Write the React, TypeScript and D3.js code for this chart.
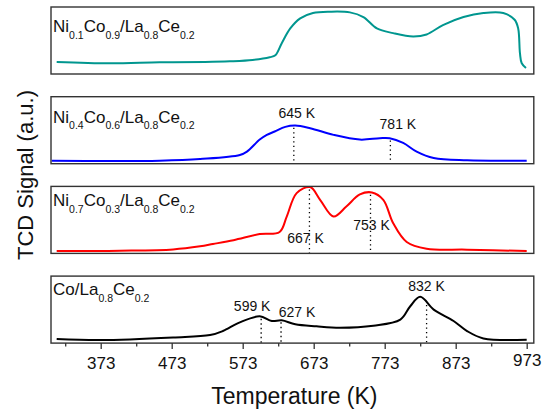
import { useEffect, useRef } from "react"
import * as d3 from "d3"

// temperatures (K) and TCD signal (a.u., 0-1 per panel)
const tempsA = [311, 386, 456, 520, 555, 587, 611, 619, 628, 640, 654, 672, 696, 724, 743, 762, 785, 813, 832, 855, 884, 912, 940, 956, 961, 963.5, 966, 972]
const signalA = [0.18, 0.16, 0.175, 0.18, 0.19, 0.21, 0.25, 0.28, 0.46, 0.68, 0.83, 0.91, 0.93, 0.92, 0.85, 0.68, 0.61, 0.56, 0.59, 0.73, 0.85, 0.91, 0.91, 0.81, 0.68, 0.31, 0.16, 0.09]

const tempsB = [304, 386, 456, 513, 569, 579, 597, 607, 618, 633, 647, 668, 701, 738, 766, 780, 799, 818, 842, 889, 973]
const signalB = [0.045, 0.04, 0.045, 0.07, 0.13, 0.18, 0.36, 0.43, 0.48, 0.55, 0.57, 0.53, 0.43, 0.36, 0.38, 0.38, 0.31, 0.18, 0.085, 0.05, 0.045]

const tempsC = [311, 400, 475, 513, 531, 560, 597, 625, 635, 649, 668, 682, 701, 719, 738, 755, 771, 785, 804, 832, 889, 973]
const signalC = [0.035, 0.04, 0.06, 0.106, 0.14, 0.197, 0.288, 0.32, 0.55, 0.9, 0.99, 0.8, 0.55, 0.7, 0.88, 0.91, 0.8, 0.45, 0.17, 0.07, 0.056, 0.035]

const tempsD = [311, 373, 475, 527, 545, 569, 597, 614, 628, 647, 677, 710, 757, 795, 809, 823, 842, 870, 889, 912, 973]
const signalD = [0.06, 0.045, 0.085, 0.12, 0.18, 0.31, 0.4, 0.33, 0.34, 0.28, 0.25, 0.23, 0.26, 0.35, 0.55, 0.69, 0.5, 0.33, 0.18, 0.07, 0.05]

const sampleNames = [
  "Ni_{0.1}Co_{0.9}/La_{0.8}Ce_{0.2}",
  "Ni_{0.4}Co_{0.6}/La_{0.8}Ce_{0.2}",
  "Ni_{0.7}Co_{0.3}/La_{0.8}Ce_{0.2}",
  "Co/La_{0.8}Ce_{0.2}",
]

const peaksA: number[] = []
const peaksB = [645, 781]
const peaksC = [667, 753]
const peaksD = [599, 627, 832]

const majorTicks = [373, 473, 573, 673, 773, 873, 973]
const minorTicks = [323, 423, 523, 623, 723, 823, 923]

const series = [
  { temps: tempsA, signal: signalA, peaks: peaksA, color: "#00968f" },
  { temps: tempsB, signal: signalB, peaks: peaksB, color: "#0000ff" },
  { temps: tempsC, signal: signalC, peaks: peaksC, color: "#ff0000" },
  { temps: tempsD, signal: signalD, peaks: peaksD, color: "#000000" },
]

// label placement: [dx from peak, baseline below panel top]
const peakLabelPos = [
  [],
  [[3, 21.5], [7.5, 32]],
  [[-4, 57], [1, 43.7]],
  [[-9, 34.7], [16, 40.7], [0, 14.7]],
]
const nameBaseline = [25, 26, 20, 19]

const W = 550
const H = 416
const left = 51
const right = 533.8
const firstTop = 7
const step = 89.7
const panelH = 67
const FONT = "'Liberation Sans', Arial, sans-serif"

function parseLabel(s: string) {
  const parts: { t: string; sub: boolean }[] = []
  const re = /_\{([^}]*)\}/g
  let last = 0
  let m
  while ((m = re.exec(s))) {
    if (m.index > last) parts.push({ t: s.slice(last, m.index), sub: false })
    parts.push({ t: m[1], sub: true })
    last = m.index + m[0].length
  }
  if (last < s.length) parts.push({ t: s.slice(last), sub: false })
  return parts
}

export default function App() {
  const svgRef = useRef<SVGSVGElement>(null)

  useEffect(() => {
    if (!svgRef.current) return
    const svg = d3.select(svgRef.current)
    svg.selectAll("*").remove()

    const x = d3.scaleLinear().domain([303, 983]).range([left, right])

    series.forEach((s, i) => {
      const top = firstTop + i * step
      const y = d3.scaleLinear().domain([0, 1]).range([top + panelH, top])
      const g = svg.append("g")

      const pts = s.temps.map((t, k) => [t, s.signal[k]] as [number, number])
      const line = d3.line<[number, number]>()
        .x(d => x(d[0]))
        .y(d => y(d[1]))
        .curve(d3.curveCatmullRom.alpha(0.5))

      g.append("path")
        .datum(pts)
        .attr("d", line)
        .attr("fill", "none")
        .attr("stroke", s.color)
        .attr("stroke-width", 2)
        .attr("stroke-linejoin", "round")

      // peak markers
      s.peaks.forEach((p, k) => {
        const v = d3.scaleLinear().domain(s.temps).range(s.signal)(p)
        g.append("line")
          .attr("x1", x(p)).attr("x2", x(p))
          .attr("y1", y(v) + 2).attr("y2", top + panelH)
          .attr("stroke", "#000")
          .attr("stroke-width", 1.3)
          .attr("stroke-dasharray", "1.3,3.2")
        const [dx, dy] = peakLabelPos[i][k]
        g.append("text")
          .attr("x", x(p) + dx)
          .attr("y", top + dy)
          .attr("text-anchor", "middle")
          .attr("font-family", FONT)
          .attr("font-size", 14)
          .attr("fill", "#111")
          .text(`${p} K`)
      })

      // frame
      g.append("rect")
        .attr("x", left).attr("y", top)
        .attr("width", right - left).attr("height", panelH)
        .attr("fill", "none")
        .attr("stroke", "#333")
        .attr("stroke-width", 1.4)

      // sample name
      const txt = g.append("text")
        .attr("x", left + 2)
        .attr("y", top + nameBaseline[i])
        .attr("font-family", FONT)
        .attr("font-size", 17)
        .attr("fill", "#111")
      let shifted = false
      parseLabel(sampleNames[i]).forEach(part => {
        const ts = txt.append("tspan").text(part.t)
        if (part.sub && !shifted) { ts.attr("dy", 6.5); shifted = true }
        else if (!part.sub && shifted) { ts.attr("dy", -6.5); shifted = false }
        if (part.sub) ts.attr("font-size", 10.5)
      })

      if (i === series.length - 1) {
        const bottom = top + panelH
        const axis = g.append("g")
          .attr("transform", `translate(0,${bottom})`)
          .call(d3.axisBottom(x).tickValues(majorTicks).tickSize(6).tickPadding(8).tickFormat(d3.format("d")))
        axis.select(".domain").remove()
        axis.selectAll("line").attr("stroke", "#333").attr("stroke-width", 1.3)
        axis.selectAll("text")
          .attr("font-family", FONT)
          .attr("font-size", 17)
          .attr("fill", "#111")
        axis.selectAll<SVGTextElement, number>("text")
          .filter(d => d === 973)
          .attr("y", 11)
        const minor = g.append("g")
          .attr("transform", `translate(0,${bottom})`)
          .call(d3.axisBottom(x).tickValues(minorTicks).tickSize(3.5).tickFormat(() => ""))
        minor.select(".domain").remove()
        minor.selectAll("line").attr("stroke", "#333").attr("stroke-width", 1.3)
      }
    })

    svg.append("text")
      .attr("x", (left + right) / 2 + 2)
      .attr("y", 404)
      .attr("text-anchor", "middle")
      .attr("font-family", FONT)
      .attr("font-size", 23)
      .attr("fill", "#111")
      .text("Temperature (K)")

    svg.append("text")
      .attr("transform", `translate(33,175) rotate(-90)`)
      .attr("text-anchor", "middle")
      .attr("font-family", FONT)
      .attr("font-size", 22)
      .attr("fill", "#111")
      .text("TCD Signal (a.u.)")
  }, [])

  return (
    <div style={{ position: "absolute", left: 0, top: 0, width: W, height: H, background: "#fff" }}>
      <svg ref={svgRef} width={W} height={H} viewBox={`0 0 ${W} ${H}`} xmlns="http://www.w3.org/2000/svg"></svg>
    </div>
  )
}
